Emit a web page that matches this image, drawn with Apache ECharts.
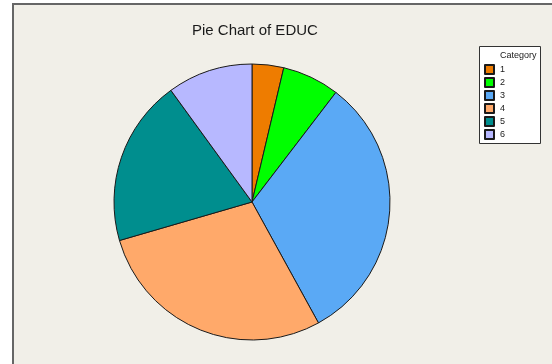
<!DOCTYPE html>
<html>
<head>
<meta charset="utf-8">
<script src="https://cdn.jsdelivr.net/npm/echarts@6/dist/echarts.min.js"></script>
<style>
  html, body { margin: 0; padding: 0; background: #fff; }
  #chart { width: 552px; height: 364px; }
</style>
</head>
<body>
<div id="chart"></div>
<script>
// EDUC categories and shares in percent
const categories = ['1', '2', '3', '4', '5', '6']
const shares = [3.7, 6.7, 31.6, 28.5, 19.5, 10.0]
const colors = ['#ee7c00', '#00ff00', '#5aa9f5', '#ffa96a', '#008e8e', '#b7b8ff']

const chart = echarts.init(document.getElementById('chart'))

chart.setOption({
  animation: false,
  backgroundColor: '#ffffff',
  title: {
    text: 'Pie Chart of EDUC',
    left: 187,
    top: 18,
    textStyle: {
      fontFamily: 'Liberation Sans',
      fontSize: 15,
      fontWeight: 'normal',
      color: '#1a1a1a'
    }
  },
  graphic: [
    {
      type: 'rect',
      z: -10,
      shape: { x: 13, y: 4, width: 600, height: 400 },
      style: { fill: '#f1efe8', stroke: '#666666', lineWidth: 2 }
    },
    {
      type: 'rect',
      z: -5,
      shape: { x: 479.5, y: 46.5, width: 61, height: 97 },
      style: { fill: '#ffffff', stroke: '#333333', lineWidth: 1 }
    },
    {
      type: 'text',
      x: 500,
      y: 51,
      style: {
        text: 'Category',
        fontFamily: 'Liberation Sans',
        fontSize: 9,
        fill: '#1a1a1a'
      }
    }
  ],
  legend: {
    orient: 'vertical',
    left: 484,
    top: 64,
    padding: 0,
    itemWidth: 9,
    itemHeight: 9,
    itemGap: 2,
    icon: 'rect',
    textStyle: {
      fontFamily: 'Liberation Sans',
      fontSize: 9,
      color: '#1a1a1a',
      padding: [0, 0, 0, 1]
    },
    data: categories
  },
  series: [
    {
      type: 'pie',
      center: [252, 202],
      radius: 138,
      startAngle: 90,
      clockwise: true,
      label: { show: false },
      labelLine: { show: false },
      emphasis: { disabled: true },
      itemStyle: { borderColor: '#1a1a1a', borderWidth: 1 },
      data: categories.map((c, i) => ({
        name: c,
        value: shares[i],
        itemStyle: { color: colors[i] }
      }))
    }
  ]
})
</script>
</body>
</html>
